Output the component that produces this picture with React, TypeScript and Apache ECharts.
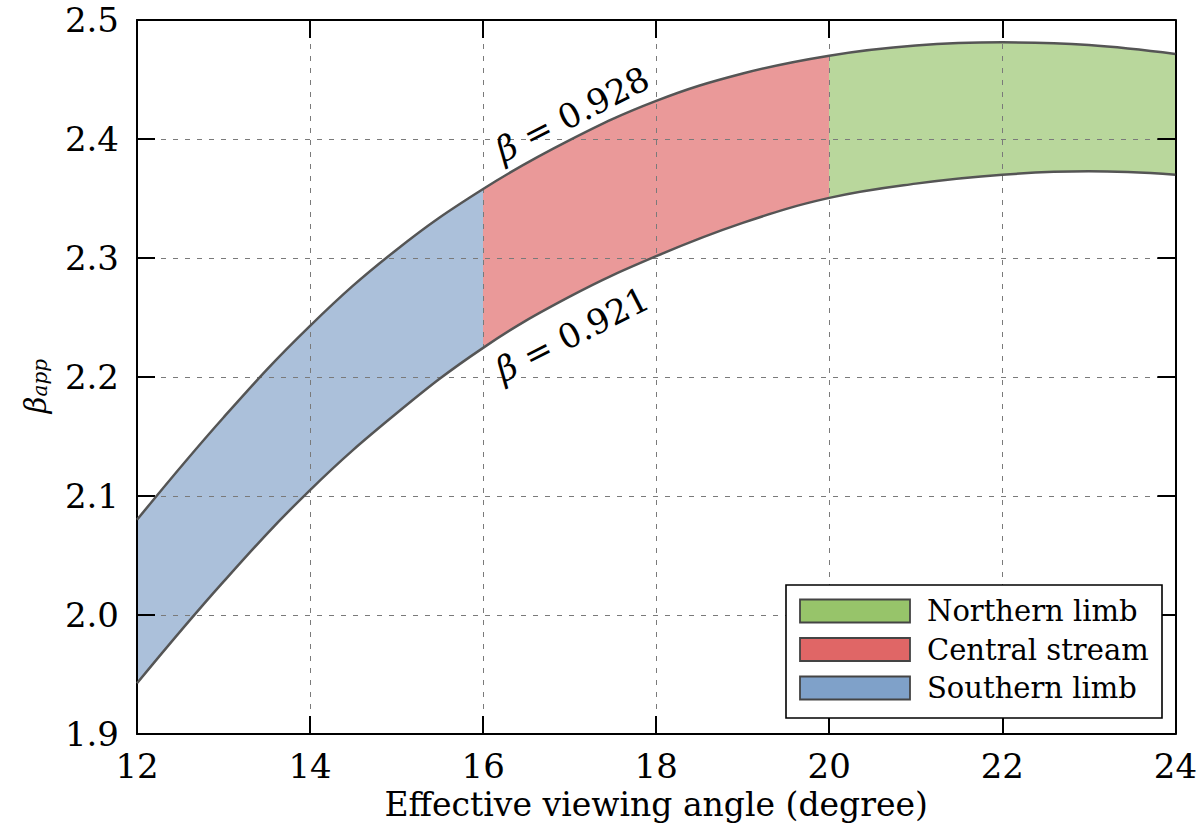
import React, { useEffect, useRef } from "react";
import * as echarts from "echarts";

// Effective viewing angle (degree)
const ANGLES = [12, 13, 14, 15, 16, 17, 18, 19, 20, 21, 22, 23, 24];
// beta_app for beta = 0.928 (upper edge)
const UPPER = [2.080, 2.166, 2.243, 2.307, 2.358, 2.399, 2.432, 2.455, 2.470, 2.4785, 2.4812, 2.479, 2.4715];
// beta_app for beta = 0.921 (lower edge)
const LOWER = [1.9426, 2.028, 2.105, 2.1695, 2.2245, 2.2675, 2.3015, 2.3295, 2.3505, 2.3625, 2.370, 2.3728, 2.370];

const X_TICKS = [12, 14, 16, 18, 20, 22, 24];
const Y_TICKS = [1.9, 2.0, 2.1, 2.2, 2.3, 2.4, 2.5];

const REGION_NAMES = ["Northern limb", "Central stream", "Southern limb"];
const REGION_START = [20, 16, 12];
const REGION_END = [24, 20, 16];

const ANNOTATIONS = ["0.928", "0.921"];
const ANNOTATION_AT: [number, number][] = [
  [17.03, 2.421],
  [17.03, 2.236],
];

const FILL: Record<string, string> = {
  "Northern limb": "#b9d79c",
  "Central stream": "#ea9999",
  "Southern limb": "#abc0da",
};
const SWATCH: Record<string, string> = {
  "Northern limb": "#97c46a",
  "Central stream": "#e06666",
  "Southern limb": "#7fa1c9",
};

const FONT = "'DejaVu Serif', 'Liberation Serif', serif";

export default function App() {
  const ref = useRef<HTMLDivElement>(null);

  useEffect(() => {
    if (!ref.current) return;
    const chart = echarts.init(ref.current, undefined, { renderer: "svg" });

    const SMOOTH = 0.4;
    const series: any[] = [
      {
        // band fill, coloured by region through visualMap
        type: "line",
        data: ANGLES.map((a, k) => [a, UPPER[k]]),
        symbol: "none",
        smooth: SMOOTH,
        silent: true,
        lineStyle: { width: 0, opacity: 0 },
        areaStyle: { opacity: 1, origin: "start" },
        z: 1,
      },
      {
        // white cover below the lower edge
        type: "line",
        data: ANGLES.map((a, k) => [a, LOWER[k]]),
        symbol: "none",
        smooth: SMOOTH,
        silent: true,
        lineStyle: { width: 0, opacity: 0 },
        areaStyle: { color: "#ffffff", opacity: 1, origin: "start" },
        z: 1,
      },
      {
        type: "line",
        data: ANGLES.map((a, k) => [a, UPPER[k]]),
        symbol: "none",
        smooth: SMOOTH,
        silent: true,
        lineStyle: { color: "#555555", width: 2.5 },
        z: 3,
      },
      {
        type: "line",
        data: ANGLES.map((a, k) => [a, LOWER[k]]),
        symbol: "none",
        smooth: SMOOTH,
        silent: true,
        lineStyle: { color: "#555555", width: 2.5 },
        z: 3,
      },
    ];

    const axisLine = { show: true, onZero: false, lineStyle: { color: "#000", width: 2 } };
    const axisTick = { show: true, inside: true, length: 18, lineStyle: { color: "#000", width: 2 } };
    const splitLine = { show: true, lineStyle: { type: [5, 7], color: "#7a7a7a", width: 1 } };

    const option: any = {
      animation: false,
      backgroundColor: "#ffffff",
      grid: { left: 137, right: 23, top: 20, bottom: 105, containLabel: false },
      visualMap: {
        show: false,
        type: "piecewise",
        seriesIndex: 0,
        dimension: 0,
        pieces: REGION_NAMES.map((name, i) => ({
          gte: REGION_START[i],
          lt: REGION_END[i] === X_TICKS[X_TICKS.length - 1] ? REGION_END[i] + 1 : REGION_END[i],
          color: FILL[name],
        })),
      },
      xAxis: [
        {
          type: "value",
          min: X_TICKS[0],
          max: X_TICKS[X_TICKS.length - 1],
          interval: 2,
          position: "bottom",
          z: 2,
          axisLine,
          axisTick,
          splitLine,
          axisLabel: {
            color: "#000",
            fontFamily: FONT,
            fontSize: 34,
            margin: 15,
            formatter: (v: number) => String(v),
          },
          name: "Effective viewing angle (degree)",
          nameLocation: "middle",
          nameGap: 25,
          nameTextStyle: { color: "#000", fontFamily: FONT, fontSize: 33, verticalAlign: "top" },
        },
        {
          type: "value",
          min: X_TICKS[0],
          max: X_TICKS[X_TICKS.length - 1],
          interval: 2,
          position: "top",
          z: 2,
          axisLine,
          axisTick,
          splitLine: { show: false },
          axisLabel: { show: false },
        },
      ],
      yAxis: [
        {
          type: "value",
          min: Y_TICKS[0],
          max: Y_TICKS[Y_TICKS.length - 1],
          interval: 0.1,
          position: "left",
          z: 2,
          axisLine,
          axisTick,
          splitLine,
          axisLabel: {
            color: "#000",
            fontFamily: FONT,
            fontSize: 34,
            margin: 18,
            formatter: (v: number) => v.toFixed(1),
          },
        },
        {
          type: "value",
          min: Y_TICKS[0],
          max: Y_TICKS[Y_TICKS.length - 1],
          interval: 0.1,
          position: "right",
          z: 2,
          axisLine,
          axisTick,
          splitLine: { show: false },
          axisLabel: { show: false },
        },
      ],
      series,
    };
    chart.setOption(option);

    // Annotations, y-axis name and legend
    const graphic: any[] = [];
    ANNOTATIONS.forEach((txt, i) => {
      const p = chart.convertToPixel({ xAxisIndex: 0, yAxisIndex: 0 }, ANNOTATION_AT[i]) as number[];
      graphic.push({
        type: "text",
        x: p[0],
        y: p[1],
        rotation: (27 * Math.PI) / 180,
        z: 10,
        style: {
          text: "{i|β} = " + txt,
          fill: "#000",
          font: `34px ${FONT}`,
          align: "center",
          verticalAlign: "middle",
          rich: {
            i: { fontStyle: "italic", fontFamily: FONT, fontSize: 34, fill: "#000" },
          },
        },
      });
    });

    graphic.push({
      type: "text",
      x: 30,
      y: 386,
      rotation: Math.PI / 2,
      z: 10,
      style: {
        text: "{b|β}{s|app}",
        fill: "#000",
        align: "center",
        verticalAlign: "middle",
        rich: {
          b: { fontStyle: "italic", fontFamily: FONT, fontSize: 29, lineHeight: 40, verticalAlign: "bottom", fill: "#000" },
          s: { fontStyle: "italic", fontFamily: FONT, fontSize: 20, lineHeight: 40, verticalAlign: "bottom", padding: [12, 0, 0, 0], fill: "#000" },
        },
      },
    });

    const lgX = 786;
    const lgY = 585;
    graphic.push({
      type: "rect",
      z: 10,
      shape: { x: lgX, y: lgY, width: 376, height: 133 },
      style: { fill: "#ffffff", stroke: "#000", lineWidth: 1.6 },
    });
    REGION_NAMES.forEach((name, i) => {
      const cy = lgY + 26 + i * 38.5;
      graphic.push({
        type: "rect",
        z: 11,
        shape: { x: lgX + 14, y: cy - 11.5, width: 110, height: 23 },
        style: { fill: SWATCH[name], stroke: "#444", lineWidth: 1.8 },
      });
      graphic.push({
        type: "text",
        z: 11,
        x: lgX + 141,
        y: cy,
        style: {
          text: name,
          fill: "#000",
          font: `29px ${FONT}`,
          align: "left",
          verticalAlign: "middle",
        },
      });
    });

    chart.setOption({ graphic });

    return () => {
      chart.dispose();
    };
  }, []);

  return (
    <div
      ref={ref}
      style={{ position: "absolute", left: 0, top: 0, width: 1200, height: 839, background: "#fff" }}
    />
  );
}
